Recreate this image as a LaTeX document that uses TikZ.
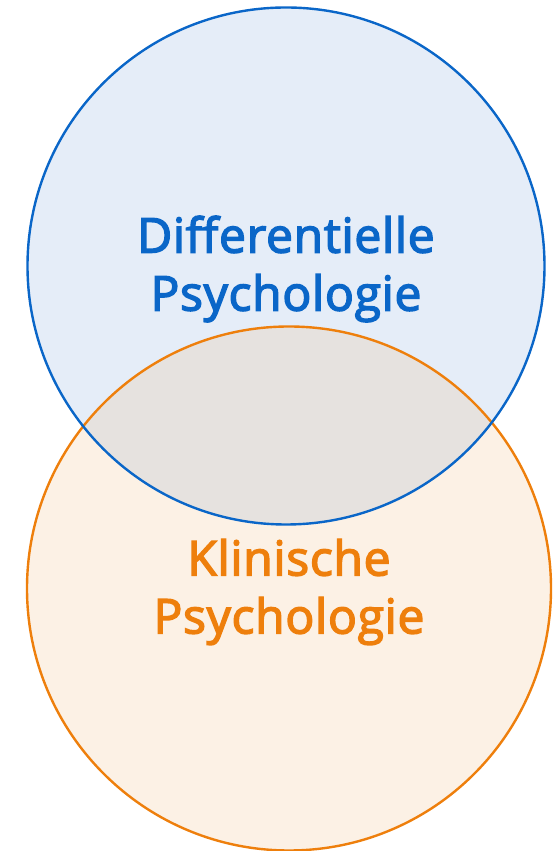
\documentclass[tikz,border=0pt]{standalone}
\usepackage{fontspec}
\setmainfont{Open Sans}
\newfontfamily\titlefont{Open Sans}[FakeBold=3, LetterSpace=1.5]

\definecolor{diffblue}{HTML}{0A66C8}
\definecolor{difffill}{HTML}{E5EDF8}
\definecolor{klinorange}{HTML}{EE7F0C}
\definecolor{klinfill}{HTML}{FCF1E5}
\definecolor{bothfill}{HTML}{E6E2DF}

\begin{document}
\begin{tikzpicture}[
    x=1pt, y=1pt,
    ring/.style={line width=2.4pt},
    title/.style={align=center, font=\titlefont\fontsize{48}{58}\selectfont, inner sep=0pt},
]
    \useasboundingbox (0,0) rectangle (557,851);

    % the two sets
    \fill[difffill] (286,585) circle (258.5);
    \fill[klinfill] (289,262.5) circle (262);
    % common part
    \begin{scope}
        \clip (286,585) circle (258.5);
        \fill[bothfill] (289,262.5) circle (262);
    \end{scope}
    \draw[ring, klinorange] (289,262.5) circle (262);
    \draw[ring, diffblue] (286,585) circle (258.5);

    \node[title, text=diffblue] (diff) at (286,582) {Differentielle\\Psychologie};
    \node[title, text=klinorange] (klin) at (289,259) {Klinische\\Psychologie};
\end{tikzpicture}
\end{document}
